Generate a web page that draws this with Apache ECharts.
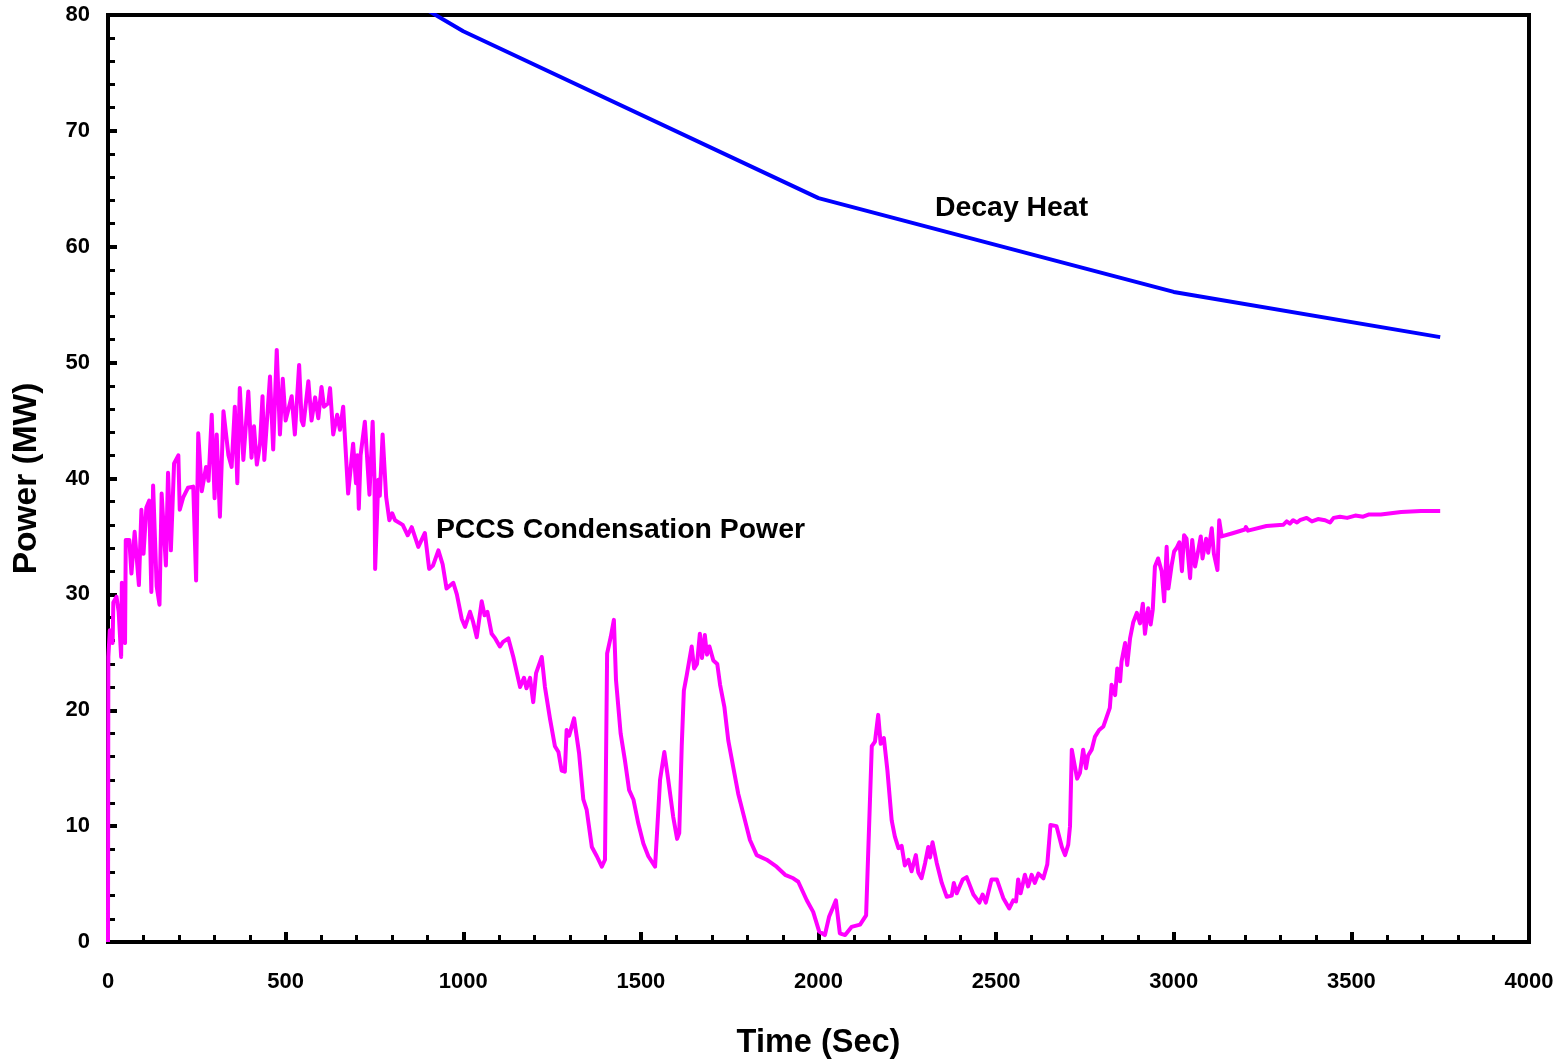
<!DOCTYPE html>
<html>
<head>
<meta charset="utf-8">
<title>PCCS Condensation Power vs Decay Heat</title>
<script src="https://cdn.jsdelivr.net/npm/echarts@6/dist/echarts.min.js"></script>
<style>
  html, body { margin: 0; padding: 0; background: #ffffff; }
  #chart { width: 1559px; height: 1059px; }
</style>
</head>
<body>
<div id="chart"></div>
<script>
// Decay heat curve (MW) at its break points
const decayTime = [500, 1000, 2000, 3000, 3750];
const decayPower = [87.6, 78.6, 64.2, 56.1, 52.2];

// PCCS condensation power (MW) over time (s)
const pccsTime = [
  0, 1, 5, 13, 15, 24, 30, 37, 39, 46, 48, 50, 60, 66, 75, 87, 94, 100, 108, 116,
  122, 127, 137, 145, 151, 163, 169, 177, 186, 198, 202, 212, 225, 240, 248, 254, 264, 276, 283, 292,
  300, 306, 315, 325, 339, 348, 357, 364, 371, 381, 395, 404, 411, 419, 428, 435, 440, 456, 465, 475,
  484, 492, 500, 517, 526, 538, 545, 550, 564, 573, 583, 592, 601, 608, 620, 625, 634, 645, 653, 662,
  676, 690, 698, 702, 706, 711, 723, 731, 736, 745, 750, 752, 761, 765, 773, 783, 792, 800, 808, 829.6,
  843.6, 855, 873.5, 892, 904, 915, 930, 942, 953, 972, 982, 995.6, 1005, 1019, 1028, 1038, 1052, 1060, 1068, 1080,
  1090, 1103, 1112, 1127, 1141, 1160, 1171, 1178, 1188, 1197, 1205, 1221, 1230, 1244, 1258, 1268, 1277, 1286, 1291, 1298,
  1312, 1326, 1338, 1347.5, 1362, 1376, 1390, 1399, 1405, 1415, 1424, 1430, 1443, 1455, 1467, 1479, 1493, 1507, 1521, 1540,
  1554, 1566, 1577, 1591, 1602, 1608, 1615, 1621, 1629, 1643, 1650, 1658, 1666, 1672, 1680, 1686, 1693, 1704, 1715, 1723,
  1735, 1746, 1760, 1774, 1788, 1807, 1826, 1854, 1882, 1906, 1929, 1943, 1967, 1985, 2002, 2018, 2030, 2041, 2049, 2053,
  2060, 2075, 2093, 2117, 2134, 2150, 2159, 2168, 2175, 2184, 2194, 2206, 2215, 2225, 2234, 2243, 2253, 2262, 2274, 2281,
  2290, 2300, 2309, 2314, 2321, 2333, 2347, 2361, 2375, 2381, 2389, 2406, 2417, 2436, 2453, 2462, 2471, 2487, 2502, 2520,
  2537, 2548, 2556, 2562, 2569, 2581, 2590, 2600, 2609, 2619, 2633, 2644, 2653, 2670, 2685, 2694, 2703, 2708, 2713, 2722,
  2728, 2736, 2745, 2753, 2759, 2769, 2778, 2790, 2802, 2811, 2820, 2825, 2835, 2841, 2849, 2853, 2863, 2869, 2877, 2886,
  2896, 2905, 2913, 2919, 2928, 2935, 2941, 2947, 2956, 2966, 2973, 2980, 2985, 2994, 3001, 3008, 3016, 3023, 3029, 3036,
  3046, 3052, 3060, 3069, 3076, 3081, 3091, 3097, 3107, 3113, 3123, 3128, 3135, 3168, 3200, 3203, 3209, 3261, 3308, 3318,
  3327, 3336, 3347, 3355, 3374, 3389, 3406, 3426, 3440, 3450, 3468, 3488, 3511, 3533, 3550, 3583, 3640, 3696, 3750
];
const pccsPower = [
  0, 24.6, 26.9, 25.8, 29.3, 29.8, 28.5, 24.6, 31.0, 26.0, 25.8, 34.7, 34.7, 31.8, 35.4, 30.8, 37.3, 33.5, 37.5, 38.1,
  30.2, 39.4, 30.7, 29.1, 38.7, 32.5, 40.5, 33.8, 41.3, 42.0, 37.3, 38.4, 39.2, 39.3, 31.2, 43.9, 38.9, 41.0, 39.8, 45.5,
  38.3, 43.8, 36.7, 45.8, 42.0, 41.0, 46.2, 39.6, 47.8, 41.6, 47.5, 41.8, 44.5, 41.2, 43.0, 47.1, 41.6, 48.8, 42.5, 51.1,
  43.8, 48.6, 45.0, 47.1, 43.8, 49.8, 45.0, 44.6, 48.4, 45.0, 47.0, 45.2, 47.9, 46.2, 46.5, 47.8, 43.8, 45.5, 44.2, 46.2,
  38.7, 43.0, 39.6, 42.0, 37.4, 42.0, 44.9, 41.0, 38.6, 44.9, 40.0, 32.2, 39.9, 38.5, 43.8, 38.4, 36.4, 37.0, 36.4, 36.0,
  35.1, 35.8, 34.1, 35.3, 32.2, 32.5, 33.8, 32.6, 30.5, 31.0, 30.0, 27.9, 27.2, 28.5, 27.6, 26.3, 29.4, 28.2, 28.5, 26.6,
  26.2, 25.5, 25.9, 26.2, 24.6, 22.0, 22.8, 21.9, 22.8, 20.7, 23.2, 24.6, 22.0, 19.3, 16.9, 16.4, 14.8, 14.7, 18.3, 17.8,
  19.3, 16.3, 12.3, 11.4, 8.2, 7.4, 6.5, 7.1, 24.9, 26.3, 27.8, 22.6, 18.0, 15.7, 13.1, 12.3, 10.2, 8.5, 7.4, 6.5,
  14.0, 16.4, 14.0, 10.8, 8.9, 9.4, 16.9, 21.7, 23.0, 25.5, 23.6, 24.0, 26.6, 24.5, 26.5, 24.8, 25.5, 24.3, 24.0, 22.2,
  20.3, 17.4, 15.1, 12.8, 11.1, 8.8, 7.5, 7.1, 6.5, 5.8, 5.5, 5.2, 3.6, 2.6, 0.9, 0.6, 2.2, 3.0, 3.6, 3.6,
  0.75, 0.6, 1.3, 1.5, 2.3, 16.9, 17.3, 19.6, 17.1, 17.6, 14.8, 10.5, 9.1, 8.1, 8.3, 6.6, 7.1, 6.1, 7.5, 6.0,
  5.5, 6.8, 8.2, 7.3, 8.6, 6.8, 5.1, 3.9, 4.0, 5.1, 4.2, 5.4, 5.6, 4.1, 3.4, 4.1, 3.4, 5.4, 5.4, 3.8,
  2.9, 3.6, 3.5, 5.4, 4.2, 5.8, 4.8, 5.8, 5.1, 5.9, 5.5, 6.7, 10.1, 10.0, 8.2, 7.5, 8.4, 10.0, 16.6, 15.1,
  14.1, 14.6, 16.6, 15.0, 16.1, 16.6, 17.7, 18.3, 18.6, 19.4, 20.2, 22.2, 21.3, 23.6, 22.5, 24.2, 25.8, 23.9, 26.2, 27.6,
  28.4, 27.5, 29.2, 26.6, 28.8, 27.4, 28.7, 32.4, 33.1, 32.0, 29.4, 34.1, 30.5, 32.5, 33.7, 34.0, 34.5, 32.0, 35.1, 34.8,
  31.4, 34.7, 32.4, 33.8, 35.0, 33.1, 34.8, 33.6, 35.7, 33.5, 32.1, 36.4, 35.0, 35.3, 35.6, 35.8, 35.5, 35.9, 36.0, 36.3,
  36.1, 36.4, 36.2, 36.4, 36.6, 36.3, 36.5, 36.4, 36.2, 36.6, 36.7, 36.6, 36.8, 36.7, 36.9, 36.9, 37.1, 37.2, 37.2
];

// Axis tick settings
const xTicks = { min: 0, max: 4000, step: 500, minorSplit: 5 };
const yTicks = { min: 0, max: 80, step: 10, minorSplit: 5 };

// Curve annotations, anchored in data space (left edge, vertical centre)
const decayLabel = { text: 'Decay Heat', at: [2328, 63.3] };
const pccsLabel = { text: 'PCCS Condensation Power', at: [923, 35.5] };

const FONT = '"Liberation Sans", Arial, Helvetica, sans-serif';
const zip = (xs, ys) => xs.map((x, i) => [x, ys[i]]);
const plain = (v) => String(v);

function annotation(lbl) {
  return {
    symbol: 'circle',
    symbolSize: 0,
    silent: true,
    data: [{
      coord: lbl.at,
      label: {
        show: true,
        position: 'right',
        distance: 0,
        formatter: lbl.text,
        color: '#000',
        fontFamily: FONT,
        fontWeight: 'bold',
        fontSize: 28.4
      }
    }]
  };
}

const chart = echarts.init(document.getElementById('chart'), null, { renderer: 'canvas' });

const baseX = {
  type: 'value', min: xTicks.min, max: xTicks.max, interval: xTicks.step,
  splitLine: { show: false }
};
const baseY = {
  type: 'value', min: yTicks.min, max: yTicks.max, interval: yTicks.step,
  splitLine: { show: false }
};

chart.setOption({
  animation: false,
  backgroundColor: '#ffffff',
  grid: {
    left: 108, right: 30, top: 15, bottom: 117,
    containLabel: false,
    outerBoundsMode: 'none',
    show: true, borderColor: '#000', borderWidth: 4, backgroundColor: 'transparent'
  },
  xAxis: [
    Object.assign({}, baseX, {
      name: 'Time (Sec)',
      nameLocation: 'middle',
      nameGap: 85,
      nameTextStyle: { color: '#000', fontFamily: FONT, fontWeight: 'bold', fontSize: 32.5 },
      axisLine: { show: true, lineStyle: { color: '#000', width: 4 } },
      axisTick: { show: true, inside: true, length: 10, lineStyle: { color: '#000', width: 4 } },
      minorTick: { show: true, splitNumber: xTicks.minorSplit, length: 7, lineStyle: { color: '#000', width: 3 } },
      axisLabel: { show: true, margin: 29, color: '#000', fontFamily: FONT, fontWeight: 'bold', fontSize: 22, formatter: plain }
    }),
    // outward half of the major ticks
    Object.assign({}, baseX, {
      axisLine: { show: false },
      axisTick: { show: true, inside: false, length: 6, lineStyle: { color: '#000', width: 4 } },
      minorTick: { show: false },
      axisLabel: { show: false }
    })
  ],
  yAxis: [
    Object.assign({}, baseY, {
      name: 'Power (MW)',
      nameLocation: 'middle',
      nameGap: 64,
      nameTextStyle: { color: '#000', fontFamily: FONT, fontWeight: 'bold', fontSize: 33.5 },
      axisLine: { show: true, lineStyle: { color: '#000', width: 4 } },
      axisTick: { show: true, inside: true, length: 9, lineStyle: { color: '#000', width: 4 } },
      minorTick: { show: true, splitNumber: yTicks.minorSplit, length: 7, lineStyle: { color: '#000', width: 3 } },
      axisLabel: { show: true, margin: 18, color: '#000', fontFamily: FONT, fontWeight: 'bold', fontSize: 22, formatter: plain }
    }),
    Object.assign({}, baseY, {
      axisLine: { show: false },
      axisTick: { show: true, inside: false, length: 7, lineStyle: { color: '#000', width: 4 } },
      minorTick: { show: false },
      axisLabel: { show: false }
    })
  ],
  series: [
    {
      name: 'Decay Heat',
      type: 'line',
      xAxisIndex: 0, yAxisIndex: 0,
      data: zip(decayTime, decayPower),
      showSymbol: false,
      clip: true,
      lineStyle: { color: '#0000FF', width: 4 },
      itemStyle: { color: '#0000FF' },
      markPoint: annotation(decayLabel)
    },
    {
      name: 'PCCS Condensation Power',
      type: 'line',
      xAxisIndex: 0, yAxisIndex: 0,
      data: zip(pccsTime, pccsPower),
      showSymbol: false,
      clip: true,
      lineStyle: { color: '#FF00FF', width: 4, join: 'round' },
      itemStyle: { color: '#FF00FF' },
      markPoint: annotation(pccsLabel)
    }
  ]
});
</script>
</body>
</html>
